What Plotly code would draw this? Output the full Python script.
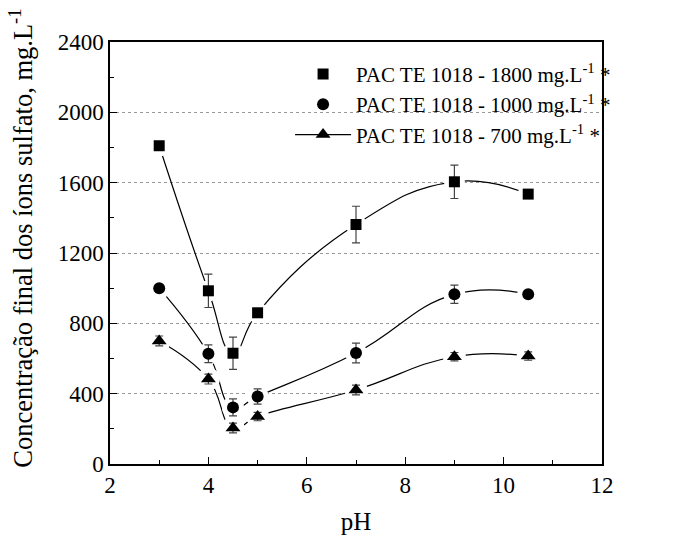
import plotly.graph_objects as go

ph = [3, 4, 4.5, 5, 7, 9, 10.5]

sq_y = [1810, 985, 630, 860, 1362, 1605, 1535]
sq_err = [0, 95, 92, 0, 104, 95, 0]

ci_y = [1000, 627, 322, 384, 631, 965, 965]
ci_err = [0, 50, 48, 43, 56, 52, 0]

tr_y = [700, 483, 205, 270, 421, 610, 614]
tr_err = [28, 28, 28, 24, 28, 24, 24]

labels = ["PAC TE 1018 - 1800 mg.L<sup>-1</sup> *",
          "PAC TE 1018 - 1000 mg.L<sup>-1</sup> *",
          "PAC TE 1018 - 700 mg.L<sup>-1</sup> *"]
y_title = "Concentração final dos íons sulfato, mg.L<sup>-1</sup>"
x_title = "pH"

series = [
    (sq_y, sq_err, "square", 11, labels[0]),
    (ci_y, ci_err, "circle", 12, labels[1]),
    (tr_y, tr_err, "triangle-up", 13, labels[2]),
]

fig = go.Figure()

# spline lines
for i, (y, e, sym, sz, lab) in enumerate(series):
    is_tri = sym == "triangle-up"
    fig.add_trace(go.Scatter(
        x=ph, y=y, mode="lines+markers" if is_tri else "lines",
        line=dict(color="black", width=1.2, shape="spline", smoothing=1.3),
        marker=dict(symbol=sym, size=sz, color="black"),
        name=lab, showlegend=is_tri, legendrank=3 if is_tri else 10,
        hoverinfo="skip"))

# white halos creating gaps in the lines around the markers
for y, e, sym, sz, lab in series:
    fig.add_trace(go.Scatter(
        x=ph, y=y, mode="markers",
        marker=dict(symbol="circle", size=sz + 10, color="white"),
        showlegend=False, hoverinfo="skip"))

# markers with error bars
for i, (y, e, sym, sz, lab) in enumerate(series):
    is_tri = sym == "triangle-up"
    fig.add_trace(go.Scatter(
        x=ph, y=y, mode="markers",
        marker=dict(symbol=sym, size=sz, color="black"),
        error_y=dict(type="data", array=e, visible=True, color="#444444",
                     thickness=1.2, width=4),
        name=lab, showlegend=not is_tri, legendrank=i + 1))

font_family = "Liberation Serif, Times New Roman, serif"

fig.update_layout(
    width=700, height=542, autosize=False,
    margin=dict(l=110, r=98, t=42, b=78),
    paper_bgcolor="white", plot_bgcolor="white",
    font=dict(family=font_family, color="black", size=22),
    legend=dict(x=0.366, y=0.972, xanchor="left", yanchor="top",
                bgcolor="rgba(0,0,0,0)", font=dict(size=21),
                itemwidth=56, tracegroupgap=0),
    xaxis=dict(range=[2, 12], dtick=2, tick0=2, automargin=False,
               showline=True, linecolor="black", linewidth=1.5, mirror=True,
               ticks="inside", ticklen=7, tickwidth=1.3, tickcolor="black",
               minor=dict(ticks="inside", ticklen=4, dtick=1, tickcolor="black"),
               showgrid=False, zeroline=False,
               tickfont=dict(size=23),
               title=dict(text=x_title, font=dict(size=25), standoff=15)),
    yaxis=dict(range=[0, 2400], dtick=400, automargin=False,
               showline=True, linecolor="black", linewidth=1.5, mirror=True,
               ticks="inside", ticklen=7, tickwidth=1.3, tickcolor="black",
               minor=dict(ticks="inside", ticklen=4, dtick=200, tickcolor="black",
                          showgrid=False),
               showgrid=True, gridcolor="#999999", gridwidth=1, griddash="3px,3px",
               zeroline=False,
               tickfont=dict(size=23)),
    annotations=[dict(text=y_title, textangle=-90, xref="paper", yref="paper",
                      x=-0.18, y=0.535, xanchor="center", yanchor="middle",
                      showarrow=False, font=dict(size=26.5))],
)

fig.write_html("out.html", config={"displayModeBar": False},
               post_script="document.body.style.margin='0px';document.body.style.padding='0px';")
